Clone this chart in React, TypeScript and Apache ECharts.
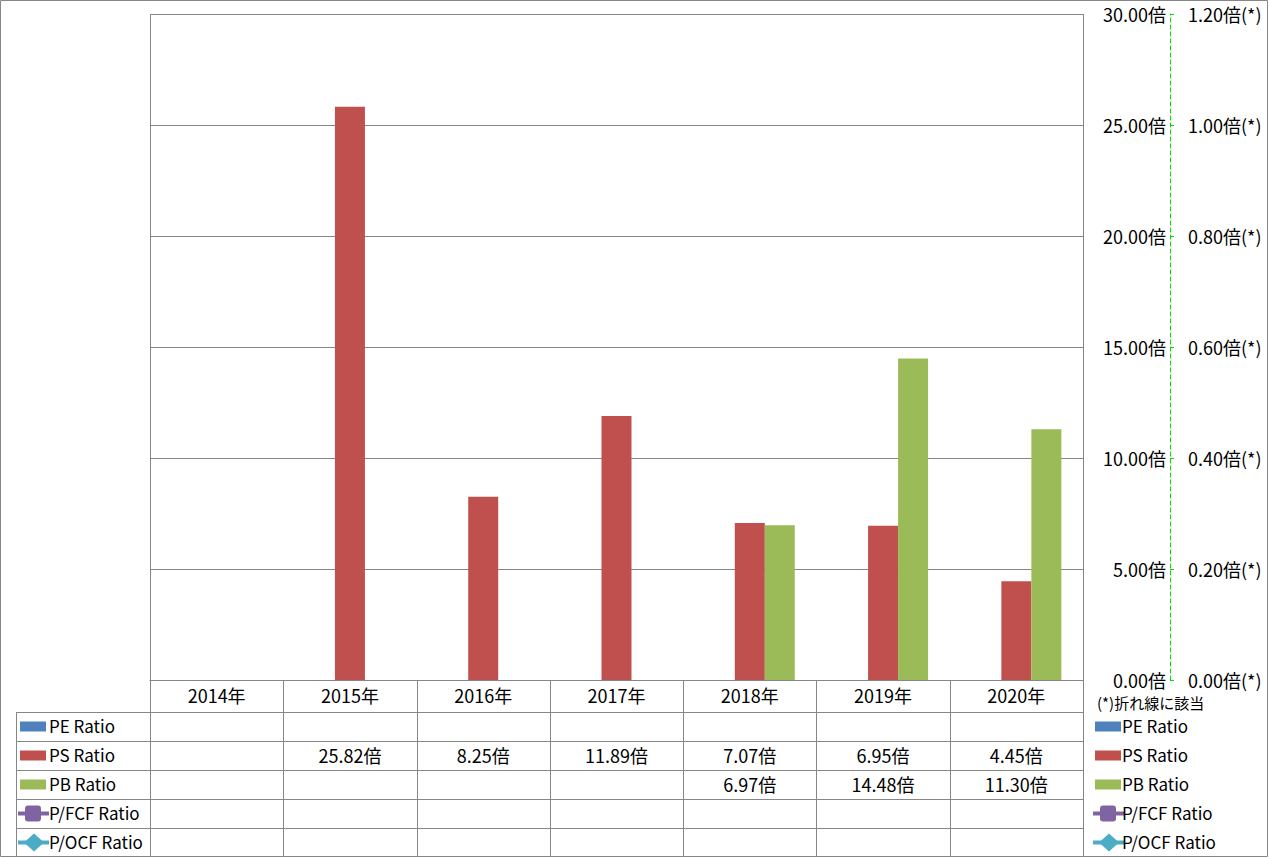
import React, { useEffect, useRef } from "react";
import * as echarts from "echarts";

const years = ["2014年", "2015年", "2016年", "2017年", "2018年", "2019年", "2020年"];
const peRatio: (number | null)[] = [null, null, null, null, null, null, null];
const psRatio: (number | null)[] = [null, 25.82, 8.25, 11.89, 7.07, 6.95, 4.45];
const pbRatio: (number | null)[] = [null, null, null, null, 6.97, 14.48, 11.3];
const pfcfRatio: (number | null)[] = [null, null, null, null, null, null, null];
const pocfRatio: (number | null)[] = [null, null, null, null, null, null, null];

const leftAxis = { min: 0, max: 30, interval: 5 };
const rightAxis = { min: 0, max: 1.2, interval: 0.2 };

const seriesNames = ["PE Ratio", "PS Ratio", "PB Ratio", "P/FCF Ratio", "P/OCF Ratio"];
const colors = ["#4F81BD", "#C0504D", "#9BBB59", "#8064A2", "#4BACC6"];
const FONT = "'Noto Sans CJK JP', 'Noto Sans', sans-serif";
const GRID_C = "#868686";

export default function App() {
  const ref = useRef<HTMLDivElement>(null);
  useEffect(() => {
    if (!ref.current) return;
    const chart = echarts.init(ref.current, undefined, { renderer: "svg" });
    const gl = 150, gt = 14, gw = 933, gh = 666;
    const gr = gl + gw, gb = gt + gh;
    chart.setOption({
      animation: false,
      textStyle: { fontFamily: FONT },
      grid: { left: gl, top: gt, width: gw, height: gh, containLabel: false },
      xAxis: {
        type: "category",
        data: years,
        axisLine: { show: true, lineStyle: { color: GRID_C } },
        axisTick: { show: false },
        axisLabel: { color: "#000", fontSize: 18, margin: 6, fontFamily: FONT },
      },
      yAxis: [
        {
          type: "value",
          position: "right",
          ...leftAxis,
          axisLine: { show: false },
          axisTick: { show: false },
          splitLine: { show: true, lineStyle: { color: GRID_C } },
          axisLabel: {
            color: "#000",
            fontSize: 18,
            align: "right",
            margin: 83,
            fontFamily: FONT,
            formatter: (v: number) => v.toFixed(2) + "倍",
          },
        },
        {
          type: "value",
          position: "right",
          offset: 87,
          ...rightAxis,
          axisLine: { show: true, lineStyle: { color: "#00E000", type: [4, 3] } },
          axisTick: { show: true, length: 4, lineStyle: { color: "#00E000" } },
          splitLine: { show: false },
          axisLabel: {
            color: "#000",
            fontSize: 18,
            margin: 18,
            fontFamily: FONT,
            formatter: (v: number) => v.toFixed(2) + "倍(*)",
          },
        },
      ],
      series: [
        { name: seriesNames[0], type: "bar", data: peRatio, barWidth: 30, barGap: "0%", itemStyle: { color: colors[0] } },
        { name: seriesNames[1], type: "bar", data: psRatio, barWidth: 30, barGap: "0%", itemStyle: { color: colors[1] } },
        { name: seriesNames[2], type: "bar", data: pbRatio, barWidth: 30, barGap: "0%", itemStyle: { color: colors[2] } },
        { name: seriesNames[3], type: "line", yAxisIndex: 1, data: pfcfRatio, itemStyle: { color: colors[3] } },
        { name: seriesNames[4], type: "line", yAxisIndex: 1, data: pocfRatio, itemStyle: { color: colors[4] } },
      ],
    });

    const rowTops = [712, 741, 770, 799, 828, 857];
    const lineStyle = { stroke: GRID_C, lineWidth: 1 };
    const g: any[] = [];
    g.push({ type: "rect", shape: { x: 0.5, y: 0.5, width: 1267, height: 856 }, style: { fill: "none", stroke: GRID_C, lineWidth: 1 }, silent: true });
    g.push({ type: "line", shape: { x1: gl + 0.5, y1: gt, x2: gl + 0.5, y2: 857 }, style: lineStyle });
    g.push({ type: "line", shape: { x1: gr + 0.5, y1: gt, x2: gr + 0.5, y2: 857 }, style: lineStyle });
    const colW = gw / years.length;
    for (let i = 1; i < years.length; i++) {
      const x = Math.round(gl + colW * i) + 0.5;
      g.push({ type: "line", shape: { x1: x, y1: gb, x2: x, y2: 857 }, style: lineStyle });
    }
    for (let r = 0; r < rowTops.length - 1; r++) {
      const y = rowTops[r] + 0.5;
      g.push({ type: "line", shape: { x1: 16, y1: y, x2: gr, y2: y }, style: lineStyle });
    }
    g.push({ type: "line", shape: { x1: 16.5, y1: 712, x2: 16.5, y2: 857 }, style: lineStyle });

    const rowsData = [peRatio, psRatio, pbRatio, pfcfRatio, pocfRatio];
    rowsData.forEach((arr, r) => {
      const yc = (rowTops[r] + rowTops[r + 1]) / 2 - 1;
      arr.forEach((v, i) => {
        if (v == null) return;
        const x = chart.convertToPixel({ xAxisIndex: 0 }, i) as number;
        g.push({
          type: "text",
          x,
          y: yc,
          style: { text: v.toFixed(2) + "倍", fill: "#000", font: `18px ${FONT}`, textAlign: "center", textVerticalAlign: "middle" },
        });
      });
    });

    const legendAt = (sx: number, tx: number) => {
      seriesNames.forEach((name, r) => {
        const yc = (rowTops[r] + rowTops[r + 1]) / 2;
        if (r < 3) {
          g.push({ type: "rect", shape: { x: sx, y: yc - 5, width: 26, height: 10 }, style: { fill: colors[r] } });
        } else {
          g.push({ type: "line", shape: { x1: sx - 2, y1: yc, x2: sx + 29, y2: yc }, style: { stroke: colors[r], lineWidth: 4 } });
          if (r === 3) {
            g.push({ type: "rect", shape: { x: sx + 5, y: yc - 8, width: 16, height: 16, r: 3 }, style: { fill: colors[r] } });
          } else {
            g.push({ type: "polygon", shape: { points: [[sx + 14, yc - 9], [sx + 24, yc], [sx + 14, yc + 9], [sx + 4, yc]] }, style: { fill: colors[r] } });
          }
        }
        g.push({
          type: "text",
          x: tx,
          y: yc - 1,
          style: { text: name, fill: "#000", font: `17px ${FONT}`, textAlign: "left", textVerticalAlign: "middle" },
        });
      });
    };
    legendAt(20, 49);
    legendAt(1095, 1122);
    g.push({
      type: "text",
      x: 1097,
      y: 702,
      style: { text: "(*)折れ線に該当", fill: "#000", font: `15px ${FONT}`, textAlign: "left", textVerticalAlign: "middle" },
    });

    chart.setOption({ graphic: g });
    return () => chart.dispose();
  }, []);
  return <div ref={ref} style={{ position: "fixed", left: 0, top: 0, width: 1269, height: 858, background: "#fff" }} />;
}
